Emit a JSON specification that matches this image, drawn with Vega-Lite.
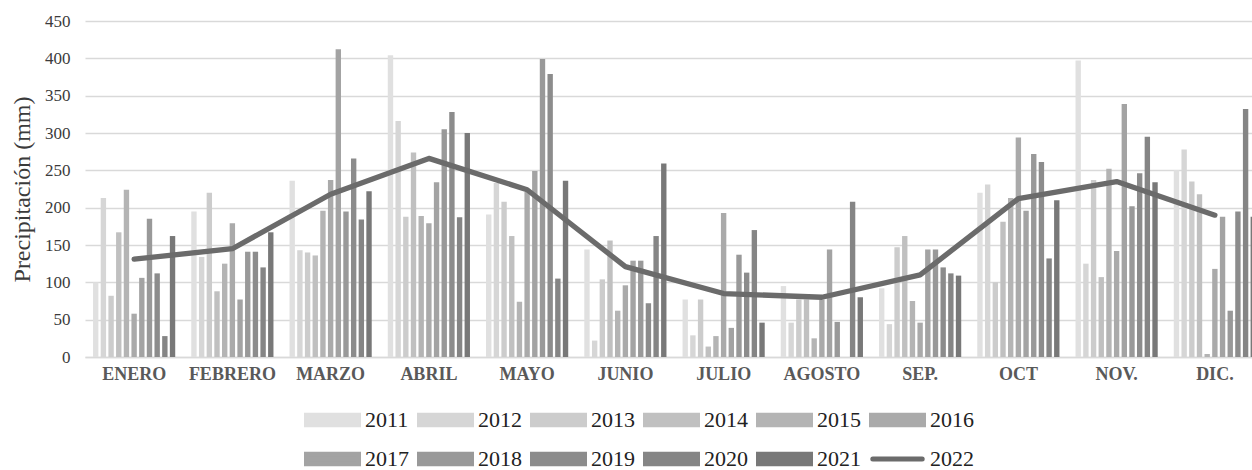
{
  "$schema": "https://vega.github.io/schema/vega-lite/v6.json",
  "width": 1167,
  "height": 336,
  "autosize": {"type": "none"},
  "padding": {"left": 85, "top": 21, "right": 0, "bottom": 113},
  "background": "white",
  "config": {"view": {"stroke": null}, "font": "Liberation Serif"},
  "datasets": {
    "rain": [
      {"month":"ENERO","year":"2011","value":100},{"month":"ENERO","year":"2012","value":213},{"month":"ENERO","year":"2013","value":82},{"month":"ENERO","year":"2014","value":167},{"month":"ENERO","year":"2015","value":224},{"month":"ENERO","year":"2016","value":58},{"month":"ENERO","year":"2017","value":106},{"month":"ENERO","year":"2018","value":185},{"month":"ENERO","year":"2019","value":112},{"month":"ENERO","year":"2020","value":28},{"month":"ENERO","year":"2021","value":162},{"month":"ENERO","year":"2022","value":131},
      {"month":"FEBRERO","year":"2011","value":195},{"month":"FEBRERO","year":"2012","value":134},{"month":"FEBRERO","year":"2013","value":220},{"month":"FEBRERO","year":"2014","value":88},{"month":"FEBRERO","year":"2015","value":125},{"month":"FEBRERO","year":"2016","value":179},{"month":"FEBRERO","year":"2017","value":77},{"month":"FEBRERO","year":"2018","value":141},{"month":"FEBRERO","year":"2019","value":141},{"month":"FEBRERO","year":"2020","value":120},{"month":"FEBRERO","year":"2021","value":167},{"month":"FEBRERO","year":"2022","value":145},
      {"month":"MARZO","year":"2011","value":236},{"month":"MARZO","year":"2012","value":143},{"month":"MARZO","year":"2013","value":140},{"month":"MARZO","year":"2014","value":136},{"month":"MARZO","year":"2015","value":196},{"month":"MARZO","year":"2016","value":237},{"month":"MARZO","year":"2017","value":412},{"month":"MARZO","year":"2018","value":195},{"month":"MARZO","year":"2019","value":266},{"month":"MARZO","year":"2020","value":184},{"month":"MARZO","year":"2021","value":222},{"month":"MARZO","year":"2022","value":218},
      {"month":"ABRIL","year":"2011","value":404},{"month":"ABRIL","year":"2012","value":316},{"month":"ABRIL","year":"2013","value":188},{"month":"ABRIL","year":"2014","value":274},{"month":"ABRIL","year":"2015","value":189},{"month":"ABRIL","year":"2016","value":179},{"month":"ABRIL","year":"2017","value":234},{"month":"ABRIL","year":"2018","value":305},{"month":"ABRIL","year":"2019","value":328},{"month":"ABRIL","year":"2020","value":187},{"month":"ABRIL","year":"2021","value":300},{"month":"ABRIL","year":"2022","value":266},
      {"month":"MAYO","year":"2011","value":191},{"month":"MAYO","year":"2012","value":233},{"month":"MAYO","year":"2013","value":208},{"month":"MAYO","year":"2014","value":162},{"month":"MAYO","year":"2015","value":74},{"month":"MAYO","year":"2016","value":221},{"month":"MAYO","year":"2017","value":249},{"month":"MAYO","year":"2018","value":399},{"month":"MAYO","year":"2019","value":379},{"month":"MAYO","year":"2020","value":105},{"month":"MAYO","year":"2021","value":236},{"month":"MAYO","year":"2022","value":224},
      {"month":"JUNIO","year":"2011","value":144},{"month":"JUNIO","year":"2012","value":22},{"month":"JUNIO","year":"2013","value":104},{"month":"JUNIO","year":"2014","value":156},{"month":"JUNIO","year":"2015","value":62},{"month":"JUNIO","year":"2016","value":96},{"month":"JUNIO","year":"2017","value":129},{"month":"JUNIO","year":"2018","value":129},{"month":"JUNIO","year":"2019","value":72},{"month":"JUNIO","year":"2020","value":162},{"month":"JUNIO","year":"2021","value":259},{"month":"JUNIO","year":"2022","value":121},
      {"month":"JULIO","year":"2011","value":77},{"month":"JULIO","year":"2012","value":29},{"month":"JULIO","year":"2013","value":77},{"month":"JULIO","year":"2014","value":14},{"month":"JULIO","year":"2015","value":28},{"month":"JULIO","year":"2016","value":193},{"month":"JULIO","year":"2017","value":39},{"month":"JULIO","year":"2018","value":137},{"month":"JULIO","year":"2019","value":113},{"month":"JULIO","year":"2020","value":170},{"month":"JULIO","year":"2021","value":46},{"month":"JULIO","year":"2022","value":85},
      {"month":"AGOSTO","year":"2011","value":95},{"month":"AGOSTO","year":"2012","value":46},{"month":"AGOSTO","year":"2013","value":77},{"month":"AGOSTO","year":"2014","value":77},{"month":"AGOSTO","year":"2015","value":25},{"month":"AGOSTO","year":"2016","value":77},{"month":"AGOSTO","year":"2017","value":144},{"month":"AGOSTO","year":"2018","value":47},{"month":"AGOSTO","year":"2019","value":0},{"month":"AGOSTO","year":"2020","value":208},{"month":"AGOSTO","year":"2021","value":80},{"month":"AGOSTO","year":"2022","value":80},
      {"month":"SEP.","year":"2011","value":92},{"month":"SEP.","year":"2012","value":44},{"month":"SEP.","year":"2013","value":147},{"month":"SEP.","year":"2014","value":162},{"month":"SEP.","year":"2015","value":75},{"month":"SEP.","year":"2016","value":46},{"month":"SEP.","year":"2017","value":144},{"month":"SEP.","year":"2018","value":144},{"month":"SEP.","year":"2019","value":120},{"month":"SEP.","year":"2020","value":112},{"month":"SEP.","year":"2021","value":109},{"month":"SEP.","year":"2022","value":110},
      {"month":"OCT","year":"2011","value":220},{"month":"OCT","year":"2012","value":231},{"month":"OCT","year":"2013","value":100},{"month":"OCT","year":"2014","value":181},{"month":"OCT","year":"2015","value":213},{"month":"OCT","year":"2016","value":294},{"month":"OCT","year":"2017","value":196},{"month":"OCT","year":"2018","value":272},{"month":"OCT","year":"2019","value":261},{"month":"OCT","year":"2020","value":132},{"month":"OCT","year":"2021","value":210},{"month":"OCT","year":"2022","value":212},
      {"month":"NOV.","year":"2011","value":397},{"month":"NOV.","year":"2012","value":125},{"month":"NOV.","year":"2013","value":237},{"month":"NOV.","year":"2014","value":107},{"month":"NOV.","year":"2015","value":252},{"month":"NOV.","year":"2016","value":142},{"month":"NOV.","year":"2017","value":339},{"month":"NOV.","year":"2018","value":202},{"month":"NOV.","year":"2019","value":246},{"month":"NOV.","year":"2020","value":295},{"month":"NOV.","year":"2021","value":234},{"month":"NOV.","year":"2022","value":235},
      {"month":"DIC.","year":"2011","value":250},{"month":"DIC.","year":"2012","value":278},{"month":"DIC.","year":"2013","value":235},{"month":"DIC.","year":"2014","value":218},{"month":"DIC.","year":"2015","value":4},{"month":"DIC.","year":"2016","value":118},{"month":"DIC.","year":"2017","value":188},{"month":"DIC.","year":"2018","value":62},{"month":"DIC.","year":"2019","value":195},{"month":"DIC.","year":"2020","value":332},{"month":"DIC.","year":"2021","value":188},{"month":"DIC.","year":"2022","value":190}
    ]
  },
  "data": {"name": "rain"},
  "encoding": {
    "x": {
      "field": "month", "type": "nominal",
      "sort": ["ENERO","FEBRERO","MARZO","ABRIL","MAYO","JUNIO","JULIO","AGOSTO","SEP.","OCT","NOV.","DIC."],
      "scale": {"range": [0, 1179], "paddingInner": 0.14, "paddingOuter": 0.07},
      "axis": {
        "title": null, "labelAngle": 0, "labelFont": "Liberation Serif", "labelFontWeight": "bold",
        "labelFontSize": 18, "labelColor": "#595959", "ticks": false, "domainColor": "#d9d9d9",
        "domainWidth": 1.3, "labelPadding": 8
      }
    },
    "y": {
      "field": "value", "type": "quantitative",
      "scale": {"domain": [0, 450]},
      "axis": {
        "values": [0,50,100,150,200,250,300,350,400,450],
        "grid": true, "gridColor": "#d9d9d9", "gridWidth": 1.3, "domain": false, "ticks": false,
        "labelFont": "Liberation Serif", "labelFontSize": 17, "labelColor": "#3b3b3b", "labelPadding": 15,
        "title": "Precipitación (mm)", "titleFont": "Liberation Serif", "titleFontSize": 24,
        "titleFontWeight": "normal", "titleColor": "#3b3b3b", "titleX": -63, "titleY": 168,
        "titleAngle": -90, "titleAlign": "center", "titleBaseline": "middle"
      }
    },
    "color": {
      "field": "year", "type": "nominal",
      "scale": {
        "domain": ["2011","2012","2013","2014","2015","2016","2017","2018","2019","2020","2021","2022"],
        "range": ["#e0e0e0","#d6d6d6","#cccccc","#c0c0c0","#b4b4b4","#aaaaaa","#a3a3a3","#999999","#8c8c8c","#858585","#787878","#6b6b6b"]
      },
      "legend": {
        "orient": "none", "legendX": 219, "legendY": 387, "direction": "horizontal", "columns": 6,
        "title": null, "padding": 0, "clipHeight": 24,
        "symbolType": "M-1,-0.18H1V0.18H-1Z", "symbolSize": 2704, "symbolStrokeWidth": 5, "symbolOpacity": 1,
        "labelFont": "Liberation Serif", "labelFontSize": 22, "labelColor": "#222222", "labelOffset": 4,
        "columnPadding": 8, "rowPadding": 15,
        "encode": {
          "symbols": {
            "update": {
              "shape": {"signal": "datum.label == '2022' ? 'M-0.95,0H0.95' : 'M-1,-0.18H1V0.18H-1Z'"},
              "strokeWidth": {"value": 5},
              "stroke": {"signal": "datum.label == '2022' ? '#6b6b6b' : 'transparent'"},
              "strokeCap": {"value": "round"}
            }
          }
        }
      }
    }
  },
  "layer": [
    {
      "transform": [{"filter": "datum.year != '2022'"}],
      "mark": {"type": "bar"},
      "encoding": {
        "xOffset": {
          "field": "year", "type": "nominal",
          "sort": ["2011","2012","2013","2014","2015","2016","2017","2018","2019","2020","2021"],
          "scale": {"paddingInner": 0.3, "paddingOuter": 0.15}
        }
      }
    },
    {
      "transform": [{"filter": "datum.year == '2022'"}],
      "mark": {"type": "line", "strokeWidth": 5.3, "strokeCap": "round", "strokeJoin": "round"}
    }
  ]
}
